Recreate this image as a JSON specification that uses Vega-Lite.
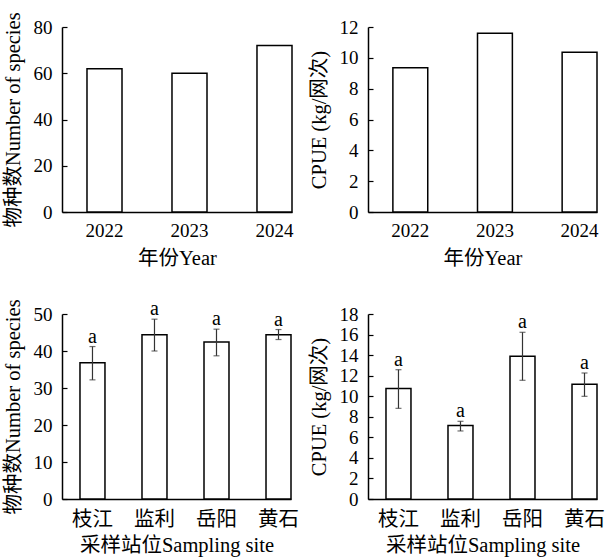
{
  "$schema": "https://vega.github.io/schema/vega-lite/v6.json",
  "background": "white",
  "padding": {"left": 3, "top": 11, "right": 5, "bottom": 5},
  "columns": 2,
  "bounds": "flush",
  "spacing": {"row": 102, "column": 76},
  "config": {
    "view": {"stroke": null},
    "font": "Liberation Serif",
    "axis": {
      "domainColor": "black", "domainWidth": 1.5,
      "ticks": false,
      "labelFont": "Liberation Serif", "labelFontSize": 19, "labelColor": "black",
      "labelOverlap": false, "labelFlush": false,
      "titleFont": "Liberation Serif, Noto Sans CJK SC", "titleFontSize": 20.5, "titleFontWeight": "normal", "titleColor": "black",
      "grid": false, "zindex": 1
    },
    "axisX": {"labelAngle": 0, "labelPadding": 9, "titlePadding": 8},
    "axisY": {"labelPadding": 10, "titlePadding": 10}
  },
  "concat": [
    {
      "width": 230, "height": 185,
      "data": {"values": [
        {"year": "2022", "value": 62.0},
        {"year": "2023", "value": 60.0},
        {"year": "2024", "value": 72.0}
      ]},
      "resolve": {"axis": {"x": "independent", "y": "independent"}},
      "layer": [
        {
          "mark": {"type": "bar", "fill": "white"},
          "encoding": {
            "x": {"field": "year", "type": "nominal", "title": "年份Year",
                  "scale": {"paddingInner": 0.588, "paddingOuter": 0.147, "align": 1}},
            "y": {"field": "value", "type": "quantitative", "title": "物种数Number of species",
                  "scale": {"domain": [0, 80], "nice": false},
                  "axis": {"values": [0, 20, 40, 60, 80]}}
          }
        },
        {
          "mark": {"type": "bar", "fill": "transparent", "stroke": "black", "strokeWidth": 1.5},
          "encoding": {
            "x": {"field": "year", "type": "nominal",
                  "axis": {"orient": "top", "offset": -185, "labels": false, "domain": false, "title": null, "ticks": true, "tickSize": 4, "tickColor": "black", "tickWidth": 1.2}},
            "y": {"field": "value", "type": "quantitative",
                  "axis": {"orient": "right", "offset": -230, "values": [0, 20, 40, 60, 80], "labels": false, "domain": false, "title": null, "ticks": true, "tickSize": 5, "tickColor": "black", "tickWidth": 1.2}}
          }
        }
      ]
    },
    {
      "width": 229, "height": 185,
      "data": {"values": [
        {"year": "2022", "value": 9.35},
        {"year": "2023", "value": 11.59},
        {"year": "2024", "value": 10.37}
      ]},
      "resolve": {"axis": {"x": "independent", "y": "independent"}},
      "layer": [
        {
          "mark": {"type": "bar", "fill": "white"},
          "encoding": {
            "x": {"field": "year", "type": "nominal", "title": "年份Year",
                  "scale": {"paddingInner": 0.588, "paddingOuter": 0.147, "align": 1}},
            "y": {"field": "value", "type": "quantitative", "title": "CPUE (kg/网次)",
                  "scale": {"domain": [0, 12], "nice": false},
                  "axis": {"values": [0, 2, 4, 6, 8, 10, 12]}}
          }
        },
        {
          "mark": {"type": "bar", "fill": "transparent", "stroke": "black", "strokeWidth": 1.5},
          "encoding": {
            "x": {"field": "year", "type": "nominal",
                  "axis": {"orient": "top", "offset": -185, "labels": false, "domain": false, "title": null, "ticks": true, "tickSize": 4, "tickColor": "black", "tickWidth": 1.2}},
            "y": {"field": "value", "type": "quantitative",
                  "axis": {"orient": "right", "offset": -229, "values": [0, 2, 4, 6, 8, 10, 12], "labels": false, "domain": false, "title": null, "ticks": true, "tickSize": 5, "tickColor": "black", "tickWidth": 1.2}}
          }
        }
      ]
    },
    {
      "width": 229, "height": 185,
      "data": {"values": [
        {"site": "枝江", "value": 36.8, "hi": 41.2, "lo": 32.2, "sig": "a"},
        {"site": "监利", "value": 44.4, "hi": 48.6, "lo": 40.0, "sig": "a"},
        {"site": "岳阳", "value": 42.4, "hi": 45.9, "lo": 38.7, "sig": "a"},
        {"site": "黄石", "value": 44.4, "hi": 45.8, "lo": 43.1, "sig": "a"}
      ]},
      "resolve": {"axis": {"x": "independent", "y": "independent"}},
      "layer": [
        {
          "mark": {"type": "bar", "fill": "white", "stroke": "black", "strokeWidth": 1.5},
          "encoding": {
            "x": {"field": "site", "type": "nominal", "sort": null, "title": "采样站位Sampling site",
                  "scale": {"paddingInner": 0.597, "paddingOuter": 0.145, "align": 1},
                  "axis": {"labelFont": "Noto Sans CJK SC", "labelFontSize": 20.5, "labelPadding": 10, "titlePadding": 6}},
            "y": {"field": "value", "type": "quantitative", "title": "物种数Number of species",
                  "scale": {"domain": [0, 50], "nice": false},
                  "axis": {"values": [0, 10, 20, 30, 40, 50]}}
          }
        },
        {
          "mark": {"type": "rule", "color": "#333", "strokeWidth": 1.2},
          "encoding": {
            "x": {"field": "site", "type": "nominal", "sort": null,
                  "axis": {"orient": "top", "offset": -185, "labels": false, "domain": false, "title": null, "ticks": true, "tickSize": 4, "tickColor": "black", "tickWidth": 1.2}},
            "y": {"field": "lo", "type": "quantitative",
                  "axis": {"orient": "right", "offset": -229, "values": [0, 10, 20, 30, 40, 50], "labels": false, "domain": false, "title": null, "ticks": true, "tickSize": 5, "tickColor": "black", "tickWidth": 1.2}},
            "y2": {"field": "hi"}
          }
        },
        {
          "mark": {"type": "tick", "color": "#333", "thickness": 1.2, "size": 6},
          "encoding": {
            "x": {"field": "site", "type": "nominal", "sort": null, "axis": null},
            "y": {"field": "hi", "type": "quantitative", "axis": null}
          }
        },
        {
          "mark": {"type": "tick", "color": "#333", "thickness": 1.2, "size": 6},
          "encoding": {
            "x": {"field": "site", "type": "nominal", "sort": null, "axis": null},
            "y": {"field": "lo", "type": "quantitative", "axis": null}
          }
        },
        {
          "mark": {"type": "text", "font": "Liberation Serif", "fontSize": 20, "baseline": "alphabetic", "dy": -4, "color": "black"},
          "encoding": {
            "x": {"field": "site", "type": "nominal", "sort": null, "axis": null},
            "y": {"field": "hi", "type": "quantitative", "axis": null},
            "text": {"field": "sig"}
          }
        }
      ]
    },
    {
      "width": 229, "height": 185,
      "data": {"values": [
        {"site": "枝江", "value": 10.74, "hi": 12.58, "lo": 8.82, "sig": "a"},
        {"site": "监利", "value": 7.14, "hi": 7.56, "lo": 6.62, "sig": "a"},
        {"site": "岳阳", "value": 13.88, "hi": 16.22, "lo": 11.55, "sig": "a"},
        {"site": "黄石", "value": 11.16, "hi": 12.26, "lo": 9.99, "sig": "a"}
      ]},
      "resolve": {"axis": {"x": "independent", "y": "independent"}},
      "layer": [
        {
          "mark": {"type": "bar", "fill": "white", "stroke": "black", "strokeWidth": 1.5},
          "encoding": {
            "x": {"field": "site", "type": "nominal", "sort": null, "title": "采样站位Sampling site",
                  "scale": {"paddingInner": 0.597, "paddingOuter": 0.145, "align": 1},
                  "axis": {"labelFont": "Noto Sans CJK SC", "labelFontSize": 20.5, "labelPadding": 10, "titlePadding": 6}},
            "y": {"field": "value", "type": "quantitative", "title": "CPUE (kg/网次)",
                  "scale": {"domain": [0, 18], "nice": false},
                  "axis": {"values": [0, 2, 4, 6, 8, 10, 12, 14, 16, 18]}}
          }
        },
        {
          "mark": {"type": "rule", "color": "#333", "strokeWidth": 1.2},
          "encoding": {
            "x": {"field": "site", "type": "nominal", "sort": null,
                  "axis": {"orient": "top", "offset": -185, "labels": false, "domain": false, "title": null, "ticks": true, "tickSize": 4, "tickColor": "black", "tickWidth": 1.2}},
            "y": {"field": "lo", "type": "quantitative",
                  "axis": {"orient": "right", "offset": -229, "values": [0, 2, 4, 6, 8, 10, 12, 14, 16, 18], "labels": false, "domain": false, "title": null, "ticks": true, "tickSize": 5, "tickColor": "black", "tickWidth": 1.2}},
            "y2": {"field": "hi"}
          }
        },
        {
          "mark": {"type": "tick", "color": "#333", "thickness": 1.2, "size": 6},
          "encoding": {
            "x": {"field": "site", "type": "nominal", "sort": null, "axis": null},
            "y": {"field": "hi", "type": "quantitative", "axis": null}
          }
        },
        {
          "mark": {"type": "tick", "color": "#333", "thickness": 1.2, "size": 6},
          "encoding": {
            "x": {"field": "site", "type": "nominal", "sort": null, "axis": null},
            "y": {"field": "lo", "type": "quantitative", "axis": null}
          }
        },
        {
          "mark": {"type": "text", "font": "Liberation Serif", "fontSize": 20, "baseline": "alphabetic", "dy": -4, "color": "black"},
          "encoding": {
            "x": {"field": "site", "type": "nominal", "sort": null, "axis": null},
            "y": {"field": "hi", "type": "quantitative", "axis": null},
            "text": {"field": "sig"}
          }
        }
      ]
    }
  ]
}
